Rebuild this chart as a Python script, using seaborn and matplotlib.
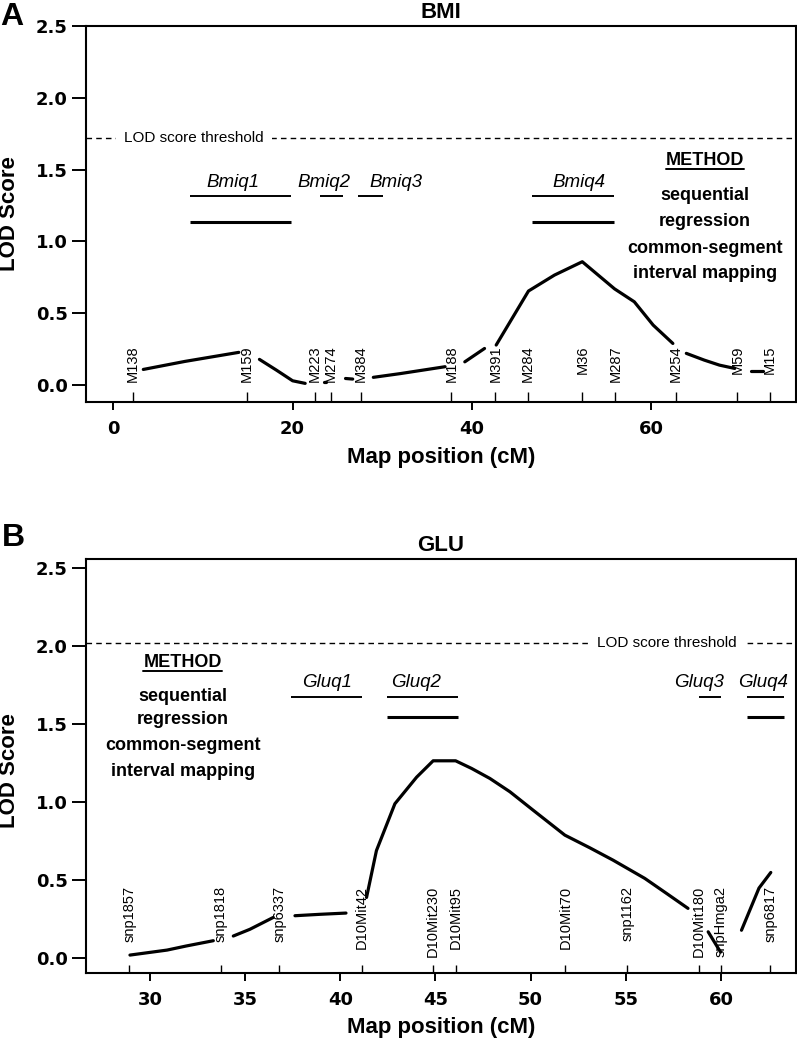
import matplotlib
matplotlib.use('Agg')
import matplotlib.pyplot as plt
import pandas as pd
import seaborn as sns

# ---- panel A: BMI ----
bmi_markers = ['M138', 'M159', 'M223', 'M274', 'M384', 'M188', 'M391',
               'M284', 'M36', 'M287', 'M254', 'M59', 'M15']
bmi_marker_cm = [2.2, 14.9, 22.5, 24.3, 27.6, 37.7, 42.6, 46.2, 52.3, 56.0, 62.7, 69.6, 73.2]

bmi_curve_seg = [1, 1, 1, 2, 2, 2, 2, 3, 3, 4, 4, 5, 5, 5, 6, 6,
                 7, 7, 7, 7, 7, 7, 7, 7, 8, 8, 8, 8, 9, 9]
bmi_curve_cm = [3.35, 8.0, 14.0, 16.3, 18.2, 20.0, 21.4, 23.5, 23.7, 25.9, 26.7,
                29.0, 32.0, 37.0, 39.2, 41.4,
                42.7, 46.3, 49.2, 52.3, 55.9, 58.1, 60.2, 62.4,
                63.9, 65.9, 67.6, 69.3, 71.1, 72.4]
bmi_curve_lod = [0.109, 0.165, 0.228, 0.179, 0.104, 0.030, 0.012, 0.020, 0.020, 0.046, 0.042,
                 0.054, 0.080, 0.128, 0.162, 0.255,
                 0.279, 0.655, 0.766, 0.859, 0.670, 0.580, 0.418, 0.290,
                 0.221, 0.174, 0.139, 0.116, 0.100, 0.100]

bmi_qtl = ['Bmiq1', 'Bmiq2', 'Bmiq3', 'Bmiq4']
bmi_qtl_label_cm = [13.3, 23.45, 31.5, 51.9]
bmi_seq_start = [8.6, 23.0, 27.3, 46.7]
bmi_seq_end = [19.8, 25.6, 30.1, 55.8]
bmi_cim_start = [8.6, 46.7]
bmi_cim_end = [19.8, 55.8]
bmi_threshold = 1.718

# ---- panel B: GLU ----
glu_markers = ['snp1857', 'snp1818', 'snp6337', 'D10Mit42', 'D10Mit230', 'D10Mit95',
               'D10Mit70', 'snp1162', 'D10Mit180', 'snpHmga2', 'snp6817']
glu_marker_cm = [28.91, 33.71, 36.79, 41.12, 44.88, 46.06, 51.83, 55.07, 58.85, 60.0, 62.6]

glu_curve_seg = [1, 1, 1, 1, 2, 2, 2, 3, 3, 3,
                 4, 4, 4, 4, 4, 4, 4, 4, 4, 4, 4, 4, 4, 4, 4, 4,
                 5, 5, 6, 6, 6]
glu_curve_cm = [28.95, 30.9, 31.9, 33.33, 34.38, 35.25, 36.48, 37.62, 38.93, 40.3,
                41.38, 41.9, 42.87, 44.01, 44.88, 46.06, 46.9, 47.86, 48.91, 50.13,
                51.8, 53.11, 54.33, 56.0, 57.14, 58.27,
                59.33, 59.98, 61.08, 62.0, 62.62]
glu_curve_lod = [0.021, 0.053, 0.079, 0.113, 0.143, 0.186, 0.262, 0.273, 0.282, 0.290,
                 0.390, 0.690, 0.990, 1.160, 1.265, 1.265, 1.216, 1.152, 1.067, 0.949,
                 0.789, 0.708, 0.629, 0.512, 0.416, 0.320,
                 0.170, 0.040, 0.180, 0.450, 0.550]

glu_qtl = ['Gluq1', 'Gluq2', 'Gluq3', 'Gluq4']
glu_qtl_label_cm = [39.28, 44.0, 58.87, 62.2]
glu_seq_start = [37.4, 42.43, 58.85, 61.37]
glu_seq_end = [41.15, 46.16, 60.02, 63.3]
glu_cim_start = [42.43, 61.37]
glu_cim_end = [46.16, 63.3]
glu_threshold = 2.017

method_lines = ['sequential', 'regression', 'common-segment', 'interval mapping']
lod_ticks = [0.0, 0.5, 1.0, 1.5, 2.0, 2.5]
bmi_cm_ticks = [0, 20, 40, 60]
glu_cm_ticks = [30, 35, 40, 45, 50, 55, 60]

sns.set_style('ticks')
plt.rcParams['font.family'] = ['Liberation Sans', 'DejaVu Sans']
plt.rcParams['axes.linewidth'] = 1.5
for key in ['text.color', 'axes.labelcolor', 'xtick.color', 'ytick.color', 'axes.edgecolor']:
    plt.rcParams[key] = 'black'

fig = plt.figure(figsize=(7.97, 10.5), dpi=100)
ax_a = fig.add_axes([0.1079, 0.6171, 0.8905, 0.3581])
ax_b = fig.add_axes([0.1079, 0.0730, 0.8905, 0.3943])


def draw_panel(ax, cm, lod, seg, markers, marker_cm, label_top, rug_h,
               qtl, qtl_x, seq_start, seq_end, cim_start, cim_end, rows,
               threshold, thr_x, thr_ha, method_x, method_y, title, xticks):
    df = pd.DataFrame({'cm': cm, 'lod': lod, 'seg': seg})
    sns.lineplot(data=df, x='cm', y='lod', units='seg', estimator=None, sort=False,
                 color='black', lw=2.3, ax=ax)

    # marker ticks along the bottom and their names
    sns.rugplot(x=marker_cm, height=rug_h, color='black', lw=1.3, ax=ax)
    for name, x in zip(markers, marker_cm):
        ax.text(x, label_top, name, rotation=90, ha='center', va='top', fontsize=10.5)

    # QTL intervals
    ax.hlines([rows[0]] * len(seq_start), seq_start, seq_end, color='black', lw=1.4)
    ax.hlines([rows[1]] * len(cim_start), cim_start, cim_end, color='black', lw=2.2)
    for name, x in zip(qtl, qtl_x):
        ax.annotate(name, (x, rows[0]), xytext=(0, 10), textcoords='offset points',
                    ha='center', va='center', fontsize=13.5, style='italic')

    # threshold
    ax.axhline(threshold, color='black', lw=1.0, ls=(0, (4, 3)))
    ax.text(thr_x, threshold, 'LOD score threshold', ha=thr_ha, va='center', fontsize=11,
            bbox=dict(facecolor='white', edgecolor='none', pad=6))

    # method legend
    head = ax.text(method_x, method_y[0], 'METHOD', ha='center', va='center',
                   fontsize=13, fontweight='bold')
    for txt, y in zip(method_lines, method_y[1:]):
        ax.text(method_x, y, txt, ha='center', va='center', fontsize=13, fontweight='bold')

    ax.set_title(title, fontsize=16, fontweight='bold', pad=6)
    ax.set_xlabel('Map position (cM)', fontsize=16, fontweight='bold')
    ax.set_ylabel('LOD Score', fontsize=16, fontweight='bold')
    ax.set_xticks(xticks)
    ax.set_yticks(lod_ticks)
    tick_font = dict(family='DejaVu Sans', fontweight='bold', fontsize=13)
    ax.set_xticklabels([str(t) for t in xticks], **tick_font)
    ax.set_yticklabels([f'{t:.1f}' for t in lod_ticks], **tick_font)
    ax.tick_params(axis='y', length=10, width=1.4, pad=3)
    ax.tick_params(axis='x', length=6, width=1.4, pad=7)
    for s in ax.spines.values():
        s.set_visible(True)
        s.set_color('black')
    return head


head_a = draw_panel(ax_a, bmi_curve_cm, bmi_curve_lod, bmi_curve_seg,
                    bmi_markers, bmi_marker_cm, 0.274, 0.027,
                    bmi_qtl, bmi_qtl_label_cm, bmi_seq_start, bmi_seq_end,
                    bmi_cim_start, bmi_cim_end, (1.316, 1.137),
                    bmi_threshold, 1.2, 'left',
                    66.0, [1.567, 1.32, 1.137, 0.952, 0.778], 'BMI', bmi_cm_ticks)
ax_a.set_xlim(-3.04, 76.1)
ax_a.set_ylim(-0.118, 2.5)

head_b = draw_panel(ax_b, glu_curve_cm, glu_curve_lod, glu_curve_seg,
                    glu_markers, glu_marker_cm, 0.463, 0.02,
                    glu_qtl, glu_qtl_label_cm, glu_seq_start, glu_seq_end,
                    glu_cim_start, glu_cim_end, (1.675, 1.543),
                    glu_threshold, 57.14, 'center',
                    31.72, [1.893, 1.679, 1.532, 1.361, 1.195], 'GLU', glu_cm_ticks)
ax_b.set_xlim(26.64, 63.93)
ax_b.set_ylim(-0.096, 2.555)

ax_a.yaxis.set_label_coords(-0.093, 0.5)
ax_b.yaxis.set_label_coords(-0.093, 0.49)
ax_a.xaxis.set_label_coords(0.5, -0.12)
ax_b.xaxis.set_label_coords(0.5, -0.105)

fig.text(0.0, 0.998, 'A', fontsize=23, fontweight='bold', ha='left', va='top')
fig.text(0.002, 0.502, 'B', fontsize=23, fontweight='bold', ha='left', va='top')

# underline the METHOD headings
fig.canvas.draw()
renderer = fig.canvas.get_renderer()
for ax, head in [(ax_a, head_a), (ax_b, head_b)]:
    bb = head.get_window_extent(renderer).transformed(ax.transData.inverted())
    ax.plot([bb.x0, bb.x1], [bb.y0, bb.y0], color='black', lw=1.4)

fig.savefig('out.png', dpi=100)
